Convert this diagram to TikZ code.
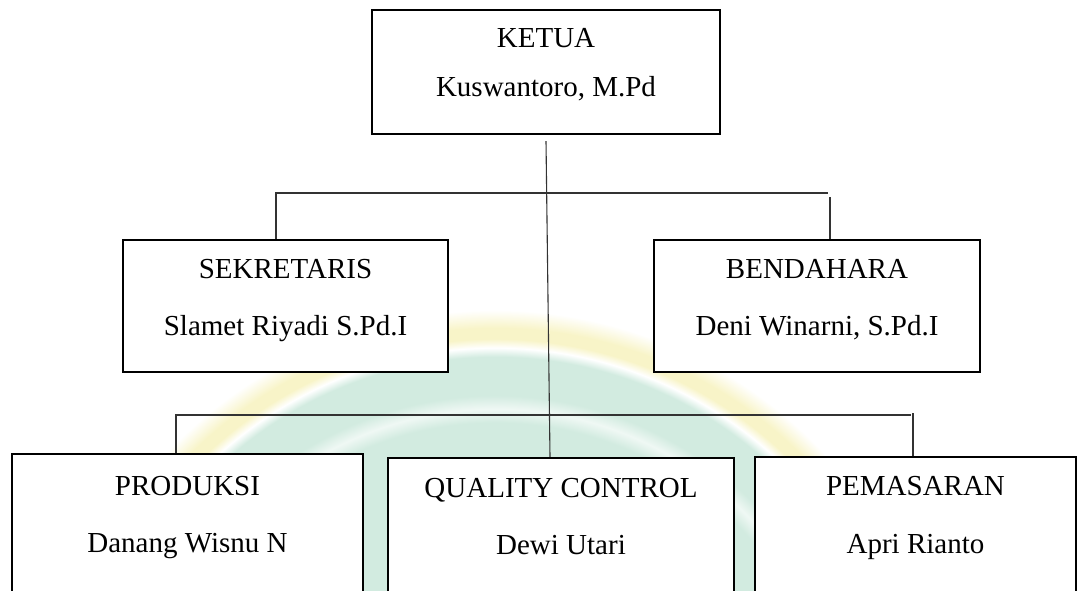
\documentclass[tikz,border=0pt]{standalone}
\usepackage{fontspec}
\setmainfont{Liberation Serif}
\definecolor{mint}{RGB}{210,235,224}
\definecolor{paleyel}{RGB}{248,244,200}
\pgfdeclareradialshading{logoshade}{\pgfpoint{0bp}{0bp}}{%
  color(0bp)=(mint); color(18.75bp)=(mint); color(19.5bp)=(white!65!mint);
  color(20.25bp)=(mint); color(22.4bp)=(mint); color(22.9bp)=(white);
  color(23.4bp)=(paleyel); color(24bp)=(paleyel); color(25bp)=(white);
  color(50bp)=(white)}
\begin{document}
\begin{tikzpicture}[x=1pt,y=-1pt]
\tikzstyle{every node}+=[inner sep=0pt]
\tikzstyle{box}=[draw=black, line width=2.2pt, fill=white, rectangle]
\tikzstyle{lbl}=[font=\fontsize{29}{34}\selectfont, anchor=base]
\tikzstyle{link}=[draw=black!80, line width=1.1pt]
\useasboundingbox (0,0) rectangle (1078,591);
\clip (0,0) rectangle (1078,591);
% faint logo in the background
\shade[shading=logoshade] (495,760) circle (450pt);
% boxes
\node[box, minimum width=348pt, minimum height=124pt] (ketua) at (546,72) {};
\node[box, minimum width=325pt, minimum height=132pt] (sek) at (285.5,306) {};
\node[box, minimum width=326pt, minimum height=132pt] (ben) at (817,306) {};
\node[box, minimum width=351pt, minimum height=200pt] (prod) at (187.5,554) {};
\node[box, minimum width=346pt, minimum height=200pt] (qc) at (561,558) {};
\node[box, minimum width=321pt, minimum height=200pt] (pem) at (915.5,557) {};
% texts
\node[lbl] (ketuaA) at (546,48) {KETUA};
\node[lbl] (ketuaB) at (546,97) {Kuswantoro, M.Pd};
\node[lbl] (sekA) at (285.5,278) {SEKRETARIS};
\node[lbl] (sekB) at (285.5,335) {Slamet Riyadi S.Pd.I};
\node[lbl] (benA) at (817,278) {BENDAHARA};
\node[lbl] (benB) at (817,335) {Deni Winarni, S.Pd.I};
\node[lbl] (prodA) at (187.5,495) {PRODUKSI};
\node[lbl] (prodB) at (187.5,552) {Danang Wisnu N};
\node[lbl] (qcA) at (561,497) {QUALITY CONTROL};
\node[lbl] (qcB) at (561,554) {Dewi Utari};
\node[lbl] (pemA) at (915.5,495) {PEMASARAN};
\node[lbl] (pemB) at (915.5,553) {Apri Rianto};
% lines
\coordinate (upL) at (276,193);
\coordinate (upR) at (828,193);
\coordinate (upRd) at (830,197);
\coordinate (loL) at (176,415);
\coordinate (loR) at (911,415);
\coordinate (loRd) at (913,413);
\draw[link] ([yshift=-6pt]ketua.south) -- ([xshift=-11pt]qc.north);
\draw[link] (upL |- sek.north) -- (upL) -- (upR);
\draw[link] (upRd) -- (upRd |- ben.north);
\draw[link] (loL |- prod.north) -- (loL) -- (loR);
\draw[link] (loRd) -- (loRd |- pem.north);
\end{tikzpicture}
\end{document}
